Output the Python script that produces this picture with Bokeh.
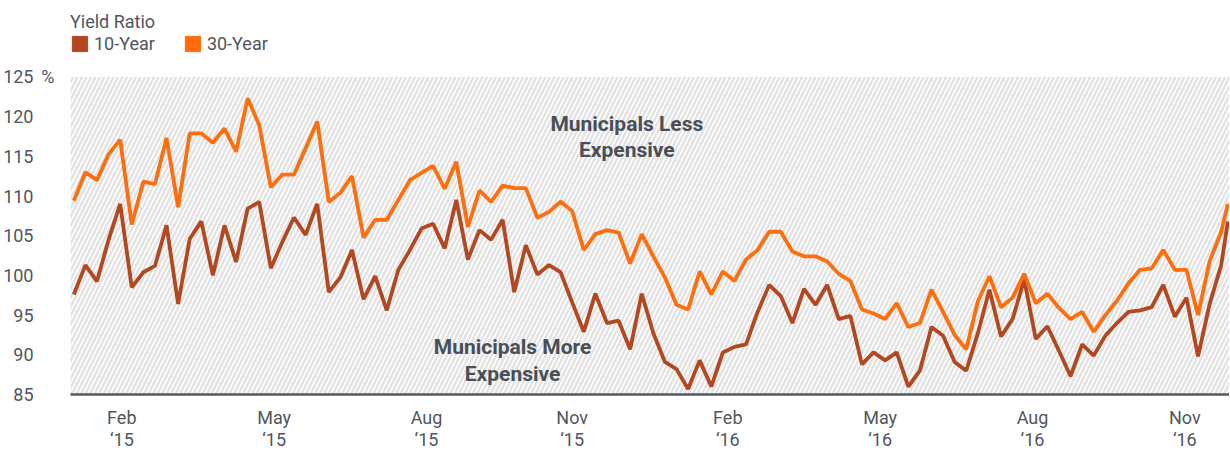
from datetime import datetime, timedelta
from bokeh.plotting import figure
from bokeh.models import (FixedTicker, BoxAnnotation, Legend, LegendItem, Label,
                          LinearAxis)
from bokeh.embed import file_html
from bokeh.resources import INLINE

# ---------------- data ----------------
start = datetime(2015, 1, 2)
dates = [start + timedelta(weeks=i) for i in range(100)] + [datetime(2016, 11, 29)]

yield_30 = [109.4, 113.0, 112.0, 115.25, 117.1, 106.4, 111.8, 111.5, 117.3, 108.6,
            117.9, 117.9, 116.7, 118.5, 115.6, 122.3, 118.9, 111.1, 112.7, 112.7,
            116.0, 119.4, 109.25, 110.4, 112.5, 104.75, 107.0, 107.0, 109.5, 112.0,
            112.9, 113.8, 110.9, 114.3, 106.1, 110.7, 109.25, 111.3, 111.0, 111.0,
            107.25, 108.0, 109.3, 108.1, 103.2, 105.2, 105.7, 105.4, 101.5, 105.2,
            102.4, 99.75, 96.3, 95.7, 100.5, 97.6, 100.5, 99.3, 102.0, 103.2,
            105.5, 105.5, 103.0, 102.4, 102.4, 101.75, 100.2, 99.3, 95.7, 95.2,
            94.5, 96.5, 93.5, 94.0, 98.2, 95.4, 92.5, 90.7, 96.75, 99.9,
            96.0, 97.2, 100.2, 96.5, 97.7, 95.9, 94.5, 95.4, 92.9, 95.0,
            96.8, 99.0, 100.7, 100.9, 103.2, 100.7, 100.7, 95.0, 101.8, 105.5,
            109.0]

yield_10 = [97.6, 101.3, 99.25, 104.5, 109.0, 98.5, 100.4, 101.2, 106.3, 96.4,
            104.6, 106.8, 100.0, 106.3, 101.7, 108.4, 109.25, 100.9, 104.25, 107.3,
            105.1, 109.0, 97.9, 99.75, 103.2, 97.0, 99.9, 95.6, 100.7, 103.2,
            105.9, 106.5, 103.4, 109.5, 102.0, 105.7, 104.5, 107.0, 97.9, 103.8,
            100.1, 101.3, 100.4, 96.6, 92.9, 97.7, 94.0, 94.3, 90.7, 97.7,
            92.75, 89.1, 88.2, 85.7, 89.3, 86.0, 90.3, 91.0, 91.3, 95.4,
            98.8, 97.4, 94.0, 98.3, 96.3, 98.8, 94.5, 94.9, 88.8, 90.3,
            89.3, 90.3, 86.0, 88.0, 93.5, 92.4, 89.1, 88.0, 92.7, 98.2,
            92.3, 94.5, 99.5, 92.0, 93.6, 90.5, 87.3, 91.3, 89.9, 92.4,
            94.0, 95.4, 95.6, 96.0, 98.8, 94.8, 97.2, 89.8, 96.4, 101.3,
            106.8]

tick_dates = [datetime(2015, 1, 31), datetime(2015, 5, 3), datetime(2015, 8, 3),
              datetime(2015, 10, 30), datetime(2016, 2, 1), datetime(2016, 5, 3),
              datetime(2016, 8, 3), datetime(2016, 11, 3)]
tick_labels = ["Feb\n\u201815", "May\n\u201815", "Aug\n\u201815", "Nov\n\u201815",
               "Feb\n\u201816", "May\n\u201816", "Aug\n\u201816", "Nov\n\u201816"]
y_ticks = [85, 90, 95, 100, 105, 110, 115, 120, 125]
y_top = 125
y_unit = "%"

C10 = "#b3471f"
C30 = "#ff6d0d"
TXT = "#51565d"
FONT = "Roboto"
FS = "18px"


def ms(d):
    return int((d - datetime(1970, 1, 1)).total_seconds() * 1000)


p = figure(width=1229, height=452, x_axis_type="datetime", y_axis_location=None,
           x_range=(datetime(2014, 12, 31), datetime(2016, 11, 30)),
           y_range=(85, 134.625), output_backend="svg", toolbar_location=None,
           min_border_left=68, min_border_right=0, min_border_top=0,
           min_border_bottom=55)
p.grid.visible = False
p.outline_line_color = None

hatch = BoxAnnotation(top=y_top, fill_alpha=0, line_alpha=0, hatch_pattern="/",
                      hatch_color="#e3e3e3", hatch_weight=2.5, hatch_scale=9,
                      level="underlay")
p.add_layout(hatch)

p.line(dates, yield_10, color=C10, line_width=3.8)
p.line(dates, yield_30, color=C30, line_width=3.8)


def style_y(ax):
    ax.axis_line_color = None
    ax.major_tick_line_color = None
    ax.minor_tick_line_color = None
    ax.major_tick_out = 0
    ax.major_tick_in = 0
    ax.minor_tick_out = 0
    ax.major_label_text_font = FONT
    ax.major_label_text_font_size = FS
    ax.major_label_text_color = TXT


# "%" unit axis next to the frame, numbers axis outside it
unit_axis = LinearAxis(ticker=FixedTicker(ticks=[y_top]),
                       major_label_overrides={y_top: y_unit},
                       major_label_standoff=16)
style_y(unit_axis)
p.add_layout(unit_axis, "left")

num_axis = LinearAxis(ticker=FixedTicker(ticks=y_ticks), major_label_standoff=5)
style_y(num_axis)
p.add_layout(num_axis, "left")

p.xaxis.ticker = FixedTicker(ticks=[ms(d) for d in tick_dates])
p.xaxis.major_label_overrides = {ms(d): lab for d, lab in zip(tick_dates, tick_labels)}
p.xaxis.axis_line_color = "#555a60"
p.xaxis.axis_line_width = 2.5
p.xaxis.major_tick_line_color = None
p.xaxis.minor_tick_line_color = None
p.xaxis.major_tick_out = 0
p.xaxis.major_tick_in = 0
p.xaxis.major_label_standoff = 12
p.xaxis.major_label_text_line_height = 1.05
p.xaxis.major_label_text_font = FONT
p.xaxis.major_label_text_font_size = FS
p.xaxis.major_label_text_color = TXT

# legend (non-drawn area renderers give square swatches)
nan = float("nan")
r10 = p.quad(left=[nan], right=[nan], top=[nan], bottom=[nan], fill_color=C10, line_color=C10)
r30 = p.quad(left=[nan], right=[nan], top=[nan], bottom=[nan], fill_color=C30, line_color=C30)
legend = Legend(items=[LegendItem(label="10-Year", renderers=[r10]),
                       LegendItem(label="30-Year", renderers=[r30])],
                orientation="horizontal", title="Yield Ratio", location=(0, 340),
                glyph_width=19, glyph_height=19, label_standoff=5, spacing=28,
                padding=0, margin=0, title_standoff=1,
                background_fill_alpha=0, border_line_color=None,
                label_text_font=FONT, label_text_font_size=FS,
                label_text_color=TXT, title_text_font=FONT,
                title_text_font_size=FS, title_text_color=TXT,
                title_text_font_style="normal")
p.add_layout(legend)

p.add_layout(Label(x=datetime(2015, 12, 2), y=117.4, text="Municipals Less\nExpensive",
                   text_align="center", text_baseline="middle", text_font=FONT,
                   text_font_style="bold", text_font_size="21px", text_color="#4a4f57",
                   text_line_height=1.1))
p.add_layout(Label(x=datetime(2015, 9, 24), y=89.3, text="Municipals More\nExpensive",
                   text_align="center", text_baseline="middle", text_font=FONT,
                   text_font_style="bold", text_font_size="21px", text_color="#4a4f57",
                   text_line_height=1.1))

open("out.html", "w").write(file_html(p, INLINE))
